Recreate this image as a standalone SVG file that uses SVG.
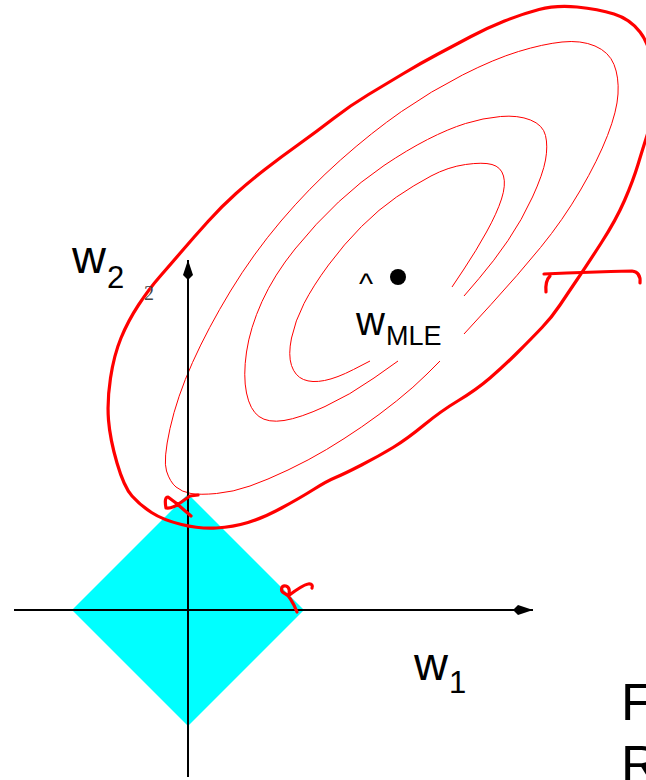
<svg xmlns="http://www.w3.org/2000/svg" width="646" height="780" viewBox="0 0 646 780">
<style>
.contour{fill:none;stroke:#ff0000;stroke-width:1}
.ink{fill:none;stroke:#ff0000;stroke-width:3.2;stroke-linecap:round;stroke-linejoin:round}
.axis{fill:none;stroke:#000;stroke-width:2}
.lbl{font-family:"Liberation Sans",Arial,sans-serif;fill:#000}
</style>
<defs>
<marker id="arrow" markerUnits="userSpaceOnUse" markerWidth="22" markerHeight="12" refX="20" refY="6" orient="auto" viewBox="0 0 22 12">
<path d="M0,6 L5,1 L20,6 L5,11 Z" fill="#000"/>
</marker>
</defs>
<rect width="646" height="780" fill="#fff"/>
<g id="diamond">
<polygon points="188,494 304,610 188,726 72,610" fill="#00ffff"/>
</g>
<g id="contours">
<path class="contour" d="M452,287 L464,269 Q476,251 486.5,232 Q497,213 501.5,199 Q506,185 503.5,176 Q501,167 492,164.5 Q483,162 465.5,164.5 Q448,167 431,176 Q414,185 396.5,197 Q379,209 361.5,226.5 Q344,244 328.5,265 Q313,286 304,303.5 Q295,321 291.5,338 Q288,355 291.5,365.5 Q295,376 303.5,379.5 Q312,383 324.5,380.5 Q337,378 353.5,369.5 L370,361"/>
<path class="contour" d="M464,296 L479,278.5 Q494,261 508,240.5 Q522,220 532.5,197 Q543,174 545.5,160 Q548,146 545.5,135.5 Q543,125 530.5,120 Q518,115 500.5,116.5 Q483,118 465.5,123.5 Q448,129 427.5,139.5 Q407,150 384,165.5 Q361,181 338.5,202 Q316,223 295,249 Q274,275 262,301.5 Q250,328 246.5,352 Q243,376 246.5,393 Q250,410 259,416.5 Q268,423 284,420.5 Q300,418 325,406.5 Q350,395 374,378 L398,361"/>
<path class="contour" d="M464,334 L491,304.5 Q518,275 540.5,247.5 Q563,220 580.5,190 Q598,160 607.5,135.5 Q617,111 618,94 Q619,77 614,64.5 Q609,52 595,46 Q581,40 562,42 Q543,44 518.5,51.5 Q494,59 462.5,75 Q431,91 401.5,111.5 Q372,132 340.5,160 Q309,188 281,221 Q253,254 230.5,291 Q208,328 192.5,362.5 Q177,397 170,428.5 Q163,460 166.5,471 Q170,482 176,487 Q182,492 191,493.5 Q200,495 216.5,493.5 Q233,492 250,486 Q267,480 288,470 Q309,460 326.5,449.5 Q344,439 361.5,427 Q379,415 396.5,401 Q414,387 427,374 L440,361"/>
</g>
<g id="axes">
<line class="axis" x1="14" y1="610" x2="533" y2="610" marker-end="url(#arrow)"/>
<line class="axis" x1="188" y1="777" x2="188" y2="260" marker-end="url(#arrow)"/>
</g>
<g id="hand-ink">
<path class="ink" d="M539,9.5 Q556,5 577,7 Q598,9 614,14 Q630,19 640,32 Q650,45 653,67.5 Q656,90 654,105 Q652,120 647.5,134 Q643,148 638,164.5 Q633,181 624.5,200.5 Q616,220 601.5,242.5 Q587,265 577.5,279 Q568,293 560,305 Q552,317 542,327.5 Q532,338 518,352 Q504,366 490,378 Q476,390 458.5,400.5 Q441,411 424,425 Q407,439 393,447.5 Q379,456 361.5,465 Q344,474 335.5,477.5 Q327,481 313.5,489.5 Q300,498 281.5,508 Q263,518 248,522.5 Q233,527 216.5,528 Q200,529 181.5,524.5 Q163,520 151.5,512.5 Q140,505 132,496 Q124,487 117,463 Q110,439 108.5,420 Q107,401 110.5,378 Q114,355 121,338 Q128,321 138.5,305 Q149,289 159.5,277 Q170,265 182,251 Q194,237 208,221.5 Q222,206 236,193.5 Q250,181 265.5,169 Q281,157 298.5,144.5 Q316,132 333.5,118.5 Q351,105 368.5,94.5 Q386,84 403.5,73.5 Q421,63 438,54 Q455,45 471,36.5 Q487,28 504.5,21 Q522,14 539,9.5 Z"/>
<path class="ink" d="M544,274 Q590,272 632,271 Q641,272 640,283"/>
<path class="ink" d="M550,276 Q545,281 546,292"/>
<path class="ink" d="M191,516 L176,503 L168,497 Q164,497 166,508 Q172,509 180,503 L190,496 L198,495"/>
<path class="ink" d="M297,612 C293,602 289,595 284,593 C280,591 281,585 286,586 C290,587 290,593 288,596 C296,590 303,585 308,584 C312,583 313,586 312,588"/>
</g>
<g id="labels">
<text class="lbl" x="72" y="273" font-size="47">w</text>
<text class="lbl" x="107" y="288" font-size="31">2</text>
<text x="144" y="300" font-size="20" font-family="Liberation Serif,serif" fill="#444">2</text>
<text class="lbl" x="359" y="294" font-size="30">^</text>
<circle cx="398" cy="277" r="8" fill="#000"/>
<text class="lbl" x="356" y="335" font-size="40">w</text>
<text class="lbl" x="386" y="345" font-size="27">MLE</text>
<text class="lbl" x="414" y="680" font-size="47">w</text>
<text class="lbl" x="449" y="693" font-size="31">1</text>
<text class="lbl" x="621" y="720" font-size="52">F</text>
<text class="lbl" x="621" y="782" font-size="52">R</text>
</g>
</svg>
